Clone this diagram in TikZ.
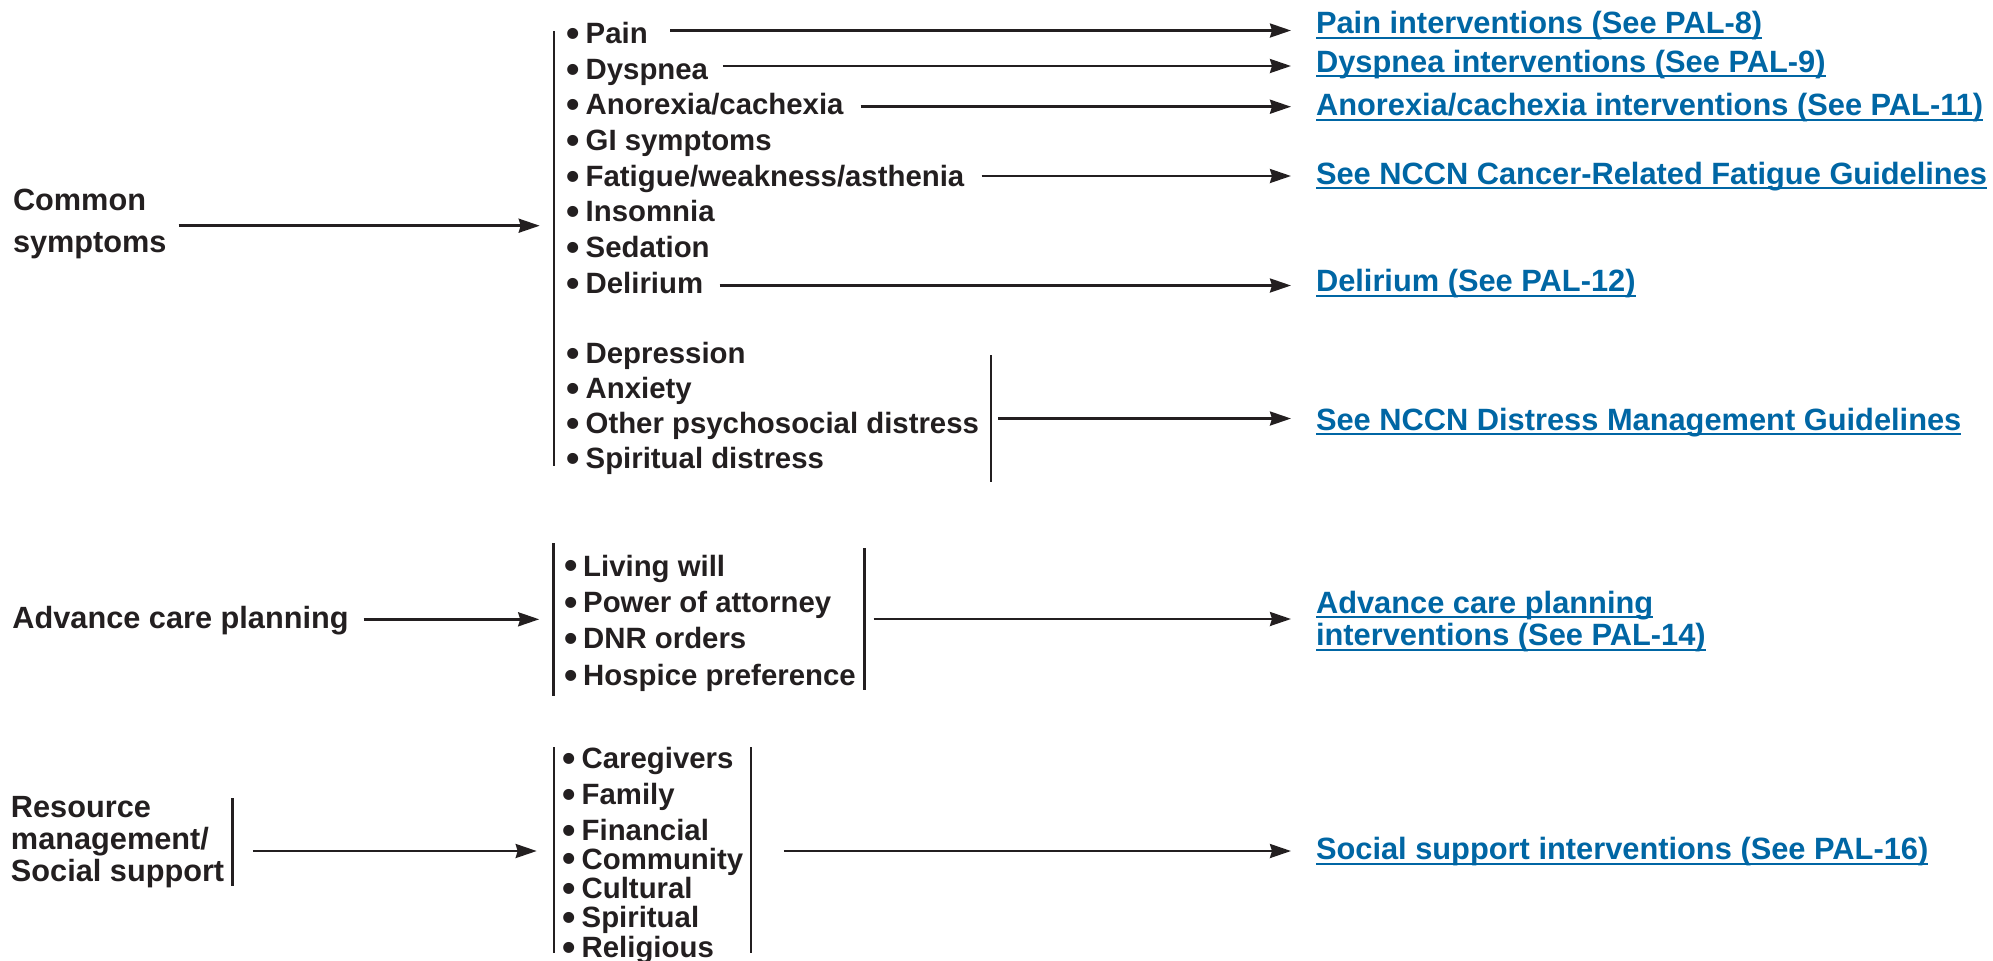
\documentclass[tikz,border=0pt]{standalone}
\usepackage{fontspec}
\setmainfont{Liberation Sans}
\usetikzlibrary{arrows.meta,calc}

\definecolor{ink}{HTML}{231F20}
\definecolor{linkblue}{HTML}{0066A4}

% underlined link text: rule sits just below the baseline and crosses descenders
\newsavebox\lnkbox
\newcommand\lnk[1]{\sbox\lnkbox{#1}\rlap{\usebox\lnkbox}\rule[-0.05cm]{\wd\lnkbox}{0.02cm}}
\newcommand\stack[1]{\begin{tabular}[t]{@{}l@{}}#1\end{tabular}}
% enlarged list bullet
\newcommand\blt{\raisebox{-0.1em}{\scalebox{1.3}{\textbullet}}\kern-0.08em\ }

\tikzset{
  every node/.style={inner sep=0pt, outer sep=0pt},
  item/.style={anchor=base west, text=ink, font=\fontsize{8.35pt}{10pt}\selectfont\bfseries},
  heading/.style={anchor=base west, text=ink, font=\fontsize{8.73pt}{#1}\selectfont\bfseries},
  heading/.default=9.76pt,
  link/.style={anchor=base west, text=linkblue, font=\fontsize{8.76pt}{9.22pt}\selectfont\bfseries},
  bar/.style={fill=ink, minimum width=0.026cm, inner sep=0pt},
  arr/.style={draw=ink, line width=0.7pt, -{Stealth[length=0.21cm,width=0.14cm,inset=0.02cm]}},
}

\begin{document}
\begin{tikzpicture}[x=0.01cm, y=-0.01cm]
\useasboundingbox (0,0) rectangle (1993,960);

% ---------- Common symptoms ----------
\node[heading=11.92pt] (cs) at (13,210.5) {\stack{Common\\symptoms}};
\node[bar, minimum height=4.35cm] (symbar) at (554,248.5) {};

\node[item] (pain)  at (566.5,43.7)  {\blt Pain};
\node[item] (dysp)  at (566.5,79.3)  {\blt Dyspnea};
\node[item] (anor)  at (566.5,114.9) {\blt Anorexia/cachexia};
\node[item] (gi)    at (566.5,150.5) {\blt GI symptoms};
\node[item] (fat)   at (566.5,186.1) {\blt Fatigue/weakness/asthenia};
\node[item] (insom) at (566.5,221.7) {\blt Insomnia};
\node[item] (sed)   at (566.5,257.5) {\blt Sedation};
\node[item] (del)   at (566.5,293.1) {\blt Delirium};
\node[item] (dep)   at (566.5,363.3) {\blt Depression};
\node[item] (anx)   at (566.5,398.4) {\blt Anxiety};
\node[item] (psy)   at (566.5,433.5) {\blt Other psychosocial distress};
\node[item] (spd)   at (566.5,468.6) {\blt Spiritual distress};
\node[bar, minimum height=1.27cm] (dbar) at (991,418.5) {};

\node[link] (pl)   at (1316,33.5)  {\lnk{Pain interventions (See PAL-8)}};
\node[link] (dl9)  at (1316,72.3)  {\lnk{Dyspnea interventions (See PAL-9)}};
\node[link] (al)   at (1316,115.6) {\lnk{Anorexia/cachexia interventions (See PAL-11)}};
\node[link] (fl)   at (1316,184)   {\lnk{See NCCN Cancer-Related Fatigue Guidelines}};
\node[link] (dell) at (1316,291.8) {\lnk{Delirium (See PAL-12)}};
\node[link] (dml)  at (1316,430.2) {\lnk{See NCCN Distress Management Guidelines}};

\draw[arr, shorten >=0.13cm] ($(cs.base east)+(12,15.2)$) coordinate (c0) -- (c0 -| symbar.west);
\draw[arr, shorten >=0.25cm] ($(pain.base east)+(22.5,-13.2)$) coordinate (p0) -- (p0 -| pl.west);
\draw[arr, shorten >=0.25cm] ($(dysp.base east)+(14.7,-13.3)$) coordinate (p1) -- (p1 -| dl9.west);
\draw[arr, shorten >=0.25cm] ($(anor.base east)+(17.1,-8.2)$) coordinate (p2) -- (p2 -| al.west);
\draw[arr, shorten >=0.25cm] ($(fat.base east)+(17.2,-10.1)$) coordinate (p3) -- (p3 -| fl.west);
\draw[arr, shorten >=0.25cm] ($(del.base east)+(16.4,-7.6)$) coordinate (p4) -- (p4 -| dell.west);
\draw[arr, shorten >=0.25cm] ($(dbar.east)+(6,0)$) coordinate (p5) -- (p5 -| dml.west);

% ---------- Advance care planning ----------
\node[heading] (acp) at (12.5,628.3) {Advance care planning};
\node[bar, minimum height=1.53cm] (abar1) at (553.5,619.5) {};
\node[item] (liv) at (564,576)   {\blt Living will};
\node[item] (poa) at (564,612.2) {\blt Power of attorney};
\node[item] (dnr) at (564,648.4) {\blt DNR orders};
\node[item] (hos) at (564,685.2) {\blt Hospice preference};
\node[bar, minimum height=1.42cm] (abar2) at (864.3,619) {};
\node[link] (acl) at (1316,613.4) {\stack{\lnk{Advance care planning}\\\lnk{interventions (See PAL-14)}}};

\draw[arr, shorten >=0.13cm] ($(acp.base east)+(15,-9)$) coordinate (a0) -- (a0 -| abar1.west);
\draw[arr, shorten >=0.25cm] ($(abar2.east)+(8,0)$) coordinate (a1) -- (a1 -| acl.west);

% ---------- Resource management / Social support ----------
\node[heading=9.1pt] (rm) at (11,817.7) {\stack{Resource\\management/\\Social support}};
\node[bar, minimum height=0.88cm] (rbar) at (232.5,842) {};
\node[bar, minimum height=2.06cm] (rlbar1) at (554,850) {};
\node[item] (cg)  at (562.5,768.3) {\blt Caregivers};
\node[item] (fam) at (562.5,804.3) {\blt Family};
\node[item] (fin) at (562.5,840.2) {\blt Financial};
\node[item] (com) at (562.5,869)   {\blt Community};
\node[item] (cul) at (562.5,898.6) {\blt Cultural};
\node[item] (spi) at (562.5,927.3) {\blt Spiritual};
\node[item] (rel) at (562.5,957.7) {\blt Religious};
\node[bar, minimum height=2.06cm] (rlbar2) at (751,850) {};
\node[link] (ssl) at (1316,859.5) {\lnk{Social support interventions (See PAL-16)}};

\draw[arr, shorten >=0.16cm] ($(rbar.east)+(19,9)$) coordinate (r0) -- (r0 -| rlbar1.west);
\draw[arr, shorten >=0.25cm] ($(rlbar2.east)+(31.5,1)$) coordinate (r1) -- (r1 -| ssl.west);
\end{tikzpicture}
\end{document}
